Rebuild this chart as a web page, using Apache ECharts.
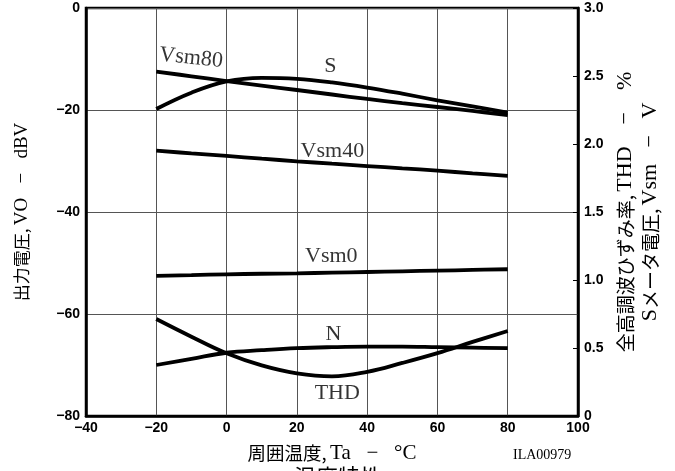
<!DOCTYPE html>
<html><head><meta charset="utf-8">
<script src="https://cdn.jsdelivr.net/npm/echarts@6/dist/echarts.min.js"></script>
<style>html,body{margin:0;padding:0;background:#fff}#c{width:675px;height:471px}</style>
</head><body><div id="c"></div>
<script>
// Ambient temperature (°C)
const temps = [-20, -10, 0, 10, 20, 30, 40, 50, 60, 70, 80];
// Output voltage S (dBV) - left axis
const sOut = [-19.8, -16.6, -14.4, -13.7, -13.9, -14.6, -15.6, -16.8, -18.1, -19.3, -20.5];
// Noise N (dBV) - left axis
const nOut = [-70.0, -68.8, -67.6, -67.1, -66.7, -66.5, -66.4, -66.4, -66.5, -66.6, -66.7];
// THD (%) - right axis
const thd = [0.713, 0.583, 0.461, 0.372, 0.314, 0.292, 0.325, 0.390, 0.462, 0.545, 0.625];
// S-meter voltage (V) - right axis
const vsm80 = [2.532, 2.498, 2.463, 2.430, 2.397, 2.364, 2.331, 2.301, 2.272, 2.243, 2.213];
const vsm40 = [1.951, 1.931, 1.912, 1.892, 1.873, 1.855, 1.838, 1.821, 1.804, 1.784, 1.765];
const vsm0  = [1.030, 1.036, 1.042, 1.046, 1.049, 1.054, 1.059, 1.064, 1.069, 1.074, 1.079];
// Curve labels: [temperature, dBV, text, rotate]
const curveLabels = [
  [-10.1, -9.8, 'Vsm80', -6],
  [29.5, -11.4, 'S', 0],
  [30.1, -28.0, 'Vsm40', 0],
  [29.8, -48.6, 'Vsm0', 0],
  [30.4, -63.9, 'N', 0],
  [31.5, -75.5, 'THD', 0]
];
const leftTicks = {min: -80, max: 0, interval: 20};
const rightTicks = {min: 0, max: 3, interval: 0.5};
const xTicks = {min: -40, max: 100, interval: 20};

const SERIF = '"Liberation Serif", serif';
const CJK = '"Noto Sans CJK JP", sans-serif';
const SANS = '"Liberation Sans", Arial, sans-serif';
const pair = a => temps.map((t, i) => [t, a[i]]);
const lineStyle = {color: '#000', width: 3.8, cap: 'butt'};
function mk(name, data, yi) {
  return {name, type: 'line', yAxisIndex: yi, data: pair(data), smooth: 0.4,
    symbol: 'none', lineStyle, z: 5};
}
const tickLabel = {fontFamily: SANS, fontSize: 14, fontWeight: 'bold', color: '#000'};
function richName(cjkSize, latSize, lh) {
  return {color: '#000', rich: {
    c: {fontFamily: CJK, fontSize: cjkSize, color: '#000', lineHeight: lh},
    l: {fontFamily: SERIF, fontSize: latSize, color: '#000', lineHeight: lh}
  }};
}
const chart = echarts.init(document.getElementById('c'), null, {renderer: 'canvas'});
chart.setOption({
  animation: false,
  backgroundColor: '#fff',
  grid: {left: 86, right: 97, top: 8, bottom: 55, show: true, borderColor: '#000', borderWidth: 2.5, backgroundColor: 'transparent'},
  xAxis: {
    type: 'value', min: xTicks.min, max: xTicks.max, interval: xTicks.interval,
    name: '{c|周囲温度,} {l|Ta   −   °C}', nameLocation: 'middle', nameGap: 25,
    nameTextStyle: richName(18.5, 21, 24),
    axisLine: {show: true, onZero: false, lineStyle: {color: '#000', width: 2.5}},
    axisTick: {show: false},
    axisLabel: Object.assign({margin: 5, formatter: v => String(v).replace('-', '−')}, tickLabel),
    splitLine: {show: true, lineStyle: {color: '#555', width: 1}}
  },
  yAxis: [{
    type: 'value', position: 'left', min: leftTicks.min, max: leftTicks.max, interval: leftTicks.interval,
    name: '{c|出力電圧,} {l|VO   −   dBV}', nameLocation: 'middle', nameGap: 53,
    nameTextStyle: richName(17, 19, 22),
    axisLine: {show: true, onZero: false, lineStyle: {color: '#000', width: 2.5}},
    axisTick: {show: false},
    axisLabel: Object.assign({margin: 6, formatter: v => String(v).replace('-', '−')}, tickLabel),
    splitLine: {show: true, lineStyle: {color: '#555', width: 1}}
  }, {
    type: 'value', position: 'right', min: rightTicks.min, max: rightTicks.max, interval: rightTicks.interval,
    name: '{c|全高調波ひずみ率,} {l|THD    −    %}\n{l|S}{c|メータ電圧,} {l|Vsm   −   V}', nameLocation: 'middle', nameGap: 33,
    nameTextStyle: Object.assign(richName(19, 22, 25), {align: 'center'}),
    axisLine: {show: true, onZero: false, lineStyle: {color: '#000', width: 2.5}},
    axisTick: {show: true, inside: true, length: 5, lineStyle: {color: '#000', width: 1}},
    axisLabel: Object.assign({margin: 6, formatter: v => v === 0 ? '0' : v.toFixed(1)}, tickLabel),
    splitLine: {show: false}
  }],
  series: [
    mk('S', sOut, 0),
    mk('N', nOut, 0),
    mk('THD', thd, 1),
    mk('Vsm80', vsm80, 1),
    mk('Vsm40', vsm40, 1),
    mk('Vsm0', vsm0, 1),
    {type: 'scatter', yAxisIndex: 0, symbolSize: 0, z: 6,
      data: curveLabels.map(l => ({value: [l[0], l[1]], name: l[2],
        label: {show: true, position: 'inside', rotate: l[3], formatter: l[2],
          fontFamily: SERIF, fontSize: 22, color: '#000'}}))}
  ],
  graphic: [
    {type: 'text', left: 513, top: 448, style: {text: 'ILA00979', font: '14px "Liberation Serif", serif', fill: '#000'}},
    {type: 'text', left: 294, top: 466, style: {text: '温度特性', font: '22px "Noto Sans CJK JP", sans-serif', fill: '#000'}}
  ]
});
</script>
</body></html>
